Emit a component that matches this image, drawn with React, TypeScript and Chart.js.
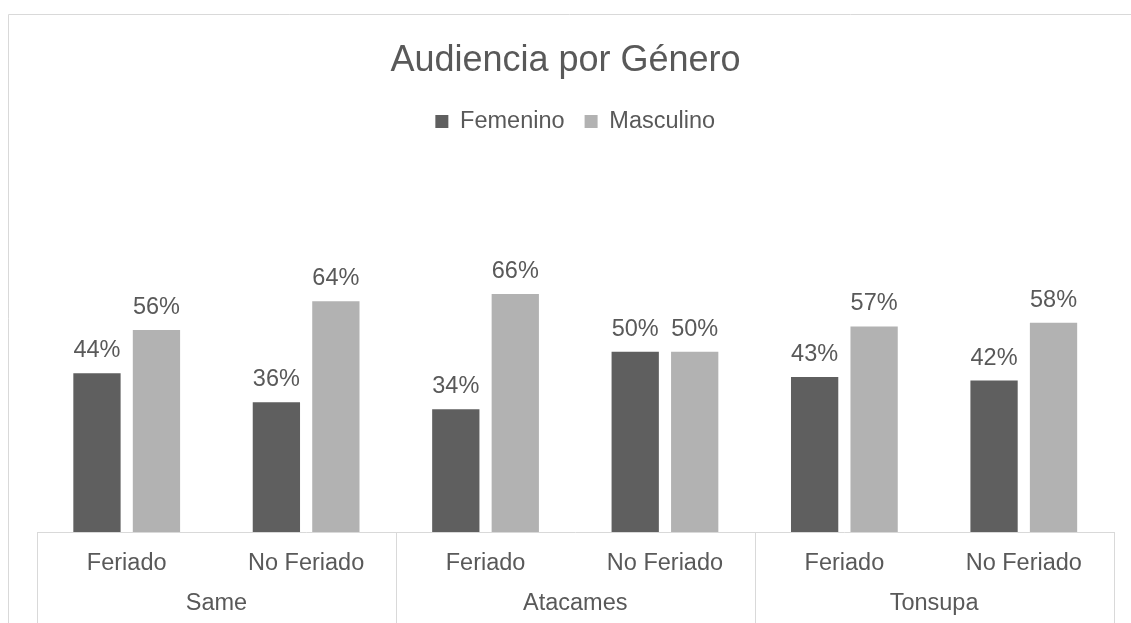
import React, { useEffect, useRef } from "react";
import { Chart, registerables } from "chart.js";

Chart.register(...registerables);

const titleText = "Audiencia por Género";
const categories = ["Feriado", "No Feriado", "Feriado", "No Feriado", "Feriado", "No Feriado"];
const groups = ["Same", "Atacames", "Tonsupa"];
const femenino = [0.44, 0.36, 0.34, 0.5, 0.43, 0.42];
const masculino = [0.56, 0.64, 0.66, 0.5, 0.57, 0.58];

const FONT = "'Liberation Sans', Arial, sans-serif";
const TEXT = "#595959";
const LINE = "#d9d9d9";

const decorPlugin = {
  id: "decor",
  beforeDraw(chart: any) {
    const { ctx } = chart;
    ctx.save();
    ctx.strokeStyle = LINE;
    ctx.lineWidth = 1;
    ctx.beginPath();
    ctx.moveTo(8.5, chart.height);
    ctx.lineTo(8.5, 14.5);
    ctx.lineTo(chart.width, 14.5);
    ctx.stroke();
    ctx.restore();
  },
  afterDraw(chart: any) {
    const { ctx } = chart;
    const x = chart.scales.x;
    const n = categories.length;
    const step = x.width / n;
    ctx.save();
    ctx.strokeStyle = LINE;
    ctx.lineWidth = 1;
    for (let i = 0; i <= n; i += 2) {
      const px = Math.round(x.left + i * step) + 0.5;
      ctx.beginPath();
      ctx.moveTo(px, x.top);
      ctx.lineTo(px, chart.height);
      ctx.stroke();
    }
    ctx.restore();
  },
  afterDatasetsDraw(chart: any) {
    const { ctx } = chart;
    ctx.save();
    ctx.font = `23.5px ${FONT}`;
    ctx.fillStyle = TEXT;
    ctx.textAlign = "center";
    ctx.textBaseline = "alphabetic";
    chart.data.datasets.forEach((ds: any, di: number) => {
      const meta = chart.getDatasetMeta(di);
      meta.data.forEach((bar: any, i: number) => {
        const v = ds.data[i];
        ctx.fillText(Math.round(v * 100) + "%", bar.x, bar.y - 16);
      });
    });
    ctx.restore();
  },
};

const hiddenAxis = (position: string, width: number, extra: any = {}) => ({
  display: true,
  position,
  grid: { display: false, drawTicks: false },
  border: { display: false },
  ticks: { display: false },
  afterFit: (s: any) => {
    s.width = width;
  },
  ...extra,
});

export default function App() {
  const ref = useRef<HTMLCanvasElement>(null);
  useEffect(() => {
    if (!ref.current) return;
    const chart = new Chart(ref.current, {
      type: "bar",
      data: {
        labels: categories,
        datasets: [
          {
            label: "Femenino",
            data: femenino,
            backgroundColor: "#5f5f5f",
            categoryPercentage: 0.663,
            barPercentage: 0.795,
          },
          {
            label: "Masculino",
            data: masculino,
            backgroundColor: "#b2b2b2",
            categoryPercentage: 0.663,
            barPercentage: 0.795,
          },
        ],
      },
      options: {
        animation: false,
        responsive: true,
        maintainAspectRatio: false,
        layout: { padding: 0 },
        plugins: {
          title: {
            display: true,
            fullSize: true,
            text: titleText,
            color: TEXT,
            font: { family: FONT, size: 36, weight: "normal" },
            padding: { top: 39, bottom: 7.5 },
          },
          legend: {
            display: true,
            position: "top",
            fullSize: false,
            labels: {
              color: TEXT,
              font: { family: FONT, size: 23.5 },
              boxWidth: 13,
              boxHeight: 13,
              padding: 20,
            },
          },
          tooltip: { enabled: false },
        },
        scales: {
          y: hiddenAxis("left", 37, { min: 0, max: 1.078 }),
          yR: hiddenAxis("right", 17.5, { min: 0, max: 1 }),
          x: {
            type: "category",
            labels: categories,
            offset: true,
            grid: { display: false, drawTicks: false },
            border: { display: true, color: LINE, width: 1 },
            ticks: {
              color: TEXT,
              font: { family: FONT, size: 23.5 },
              padding: 17,
              maxRotation: 0,
              autoSkip: false,
            },
            afterFit: (s: any) => {
              s.height = 45;
            },
          },
          x2: {
            type: "category",
            position: "bottom",
            labels: groups,
            offset: true,
            grid: { display: false, drawTicks: false },
            border: { display: false },
            ticks: {
              color: TEXT,
              font: { family: FONT, size: 23.5 },
              padding: 12,
              maxRotation: 0,
              autoSkip: false,
            },
            afterFit: (s: any) => {
              s.height = 46;
            },
          },
        },
      },
      plugins: [decorPlugin],
    });
    return () => chart.destroy();
  }, []);
  return (
    <div style={{ position: "absolute", left: 0, top: 0, width: 1131, height: 623, background: "#ffffff" }}>
      <canvas ref={ref} />
    </div>
  );
}
